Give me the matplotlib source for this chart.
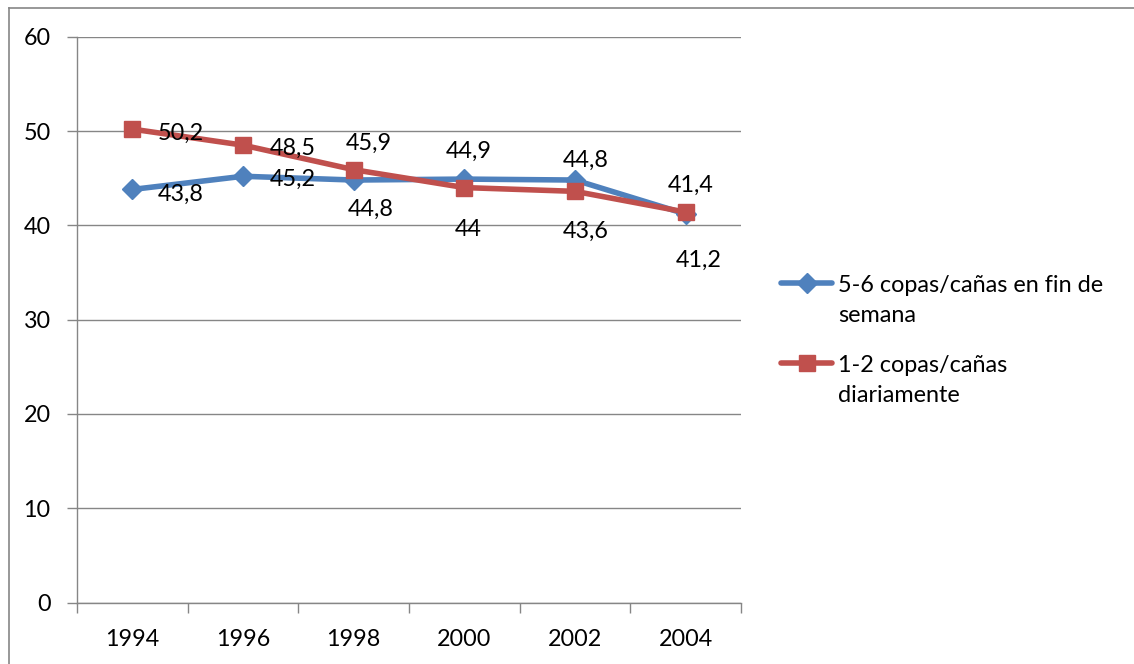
import numpy as np
import matplotlib
matplotlib.use("Agg")
import matplotlib.pyplot as plt
from matplotlib.lines import Line2D

plt.rcParams['font.family'] = ['Lato', 'DejaVu Sans']

years = ['1994', '1996', '1998', '2000', '2002', '2004']
finde = [43.8, 45.2, 44.8, 44.9, 44.8, 41.2]
diario = [50.2, 48.5, 45.9, 44.0, 43.6, 41.4]
name_finde = ['5-6 copas/cañas en fin de', 'semana']
name_diario = ['1-2 copas/cañas', 'diariamente']

# label offsets in pixels (dx, dy) from each point, like excel placed them
off_finde = [(48, -3), (50, -1), (17, -27), (4, 30), (11, 22), (13, -44)]
off_diario = [(48, -2), (50, -1), (15, 28), (4, -40), (11, -38), (5, 29)]

blue = '#4F81BD'
red = '#C0504D'
grey = '#868686'
fs = 16.8
lw = 4

W, H = 1134, 664
fig = plt.figure(figsize=(W / 100, H / 100), dpi=100)
ax = fig.add_axes([77 / W, 1 - 602.5 / H, (741 - 77) / W, (602.5 - 36.7) / H])

x = np.arange(len(years))
ax.plot(x, finde, color=blue, lw=lw, marker='D', ms=10.5, mfc=blue, mec=blue,
        solid_capstyle='round', zorder=3)
ax.plot(x, diario, color=red, lw=lw, marker='s', ms=12, mfc=red, mec=red,
        solid_capstyle='round', zorder=4)

def fmt(v):
    s = ('%.1f' % v).rstrip('0').rstrip('.')
    return s.replace('.', ',')

for vals, offs in [(finde, off_finde), (diario, off_diario)]:
    for i, v in enumerate(vals):
        ax.annotate(fmt(v), (x[i], v), xytext=offs[i], textcoords='offset pixels',
                    ha='center', va='center_baseline', fontsize=fs, color='black', zorder=5)

ax.set_xlim(-0.5, len(years) - 0.5)
ax.set_ylim(0, 60)
ax.set_yticks(np.arange(0, 61, 10))
ax.set_xticks(x)
ax.set_xticklabels(years)
ax.set_xticks(np.arange(-0.5, len(years)), minor=True)
ax.tick_params(axis='x', which='major', length=0, pad=19, labelsize=fs)
ax.tick_params(axis='x', which='minor', length=7, width=1, color=grey, direction='out')
ax.tick_params(axis='y', length=7, width=1, color=grey, pad=12, labelsize=fs)
ax.grid(axis='y', color=grey, lw=1)
ax.set_axisbelow(True)
for s in ['top', 'right']:
    ax.spines[s].set_visible(False)
for s in ['left', 'bottom']:
    ax.spines[s].set_color(grey)
    ax.spines[s].set_linewidth(1)

# legend drawn by hand so the handle sits on the first text line
def leg_entry(y_px, color, marker, ms, lines):
    yf = 1 - y_px / H
    fig.add_artist(Line2D([781 / W, 832 / W], [yf, yf], color=color, lw=lw,
                          solid_capstyle='round'))
    fig.add_artist(Line2D([806.5 / W], [yf], color=color, marker=marker, ms=ms,
                          mfc=color, mec=color, lw=0))
    for k, line in enumerate(lines):
        fig.text(838 / W, 1 - (y_px + 30 * k) / H, line, fontsize=fs,
                 va='center_baseline', ha='left')

leg_entry(283, blue, 'D', 10.5, name_finde)
leg_entry(363, red, 's', 12, name_diario)

# outer frame (left and top edges)
fig.add_artist(Line2D([8.5 / W, 8.5 / W], [0, 1 - 8 / H], color=grey, lw=1.2))
fig.add_artist(Line2D([8.5 / W, 1], [1 - 8 / H, 1 - 8 / H], color=grey, lw=1.2))

fig.savefig('out.png', dpi=100)
